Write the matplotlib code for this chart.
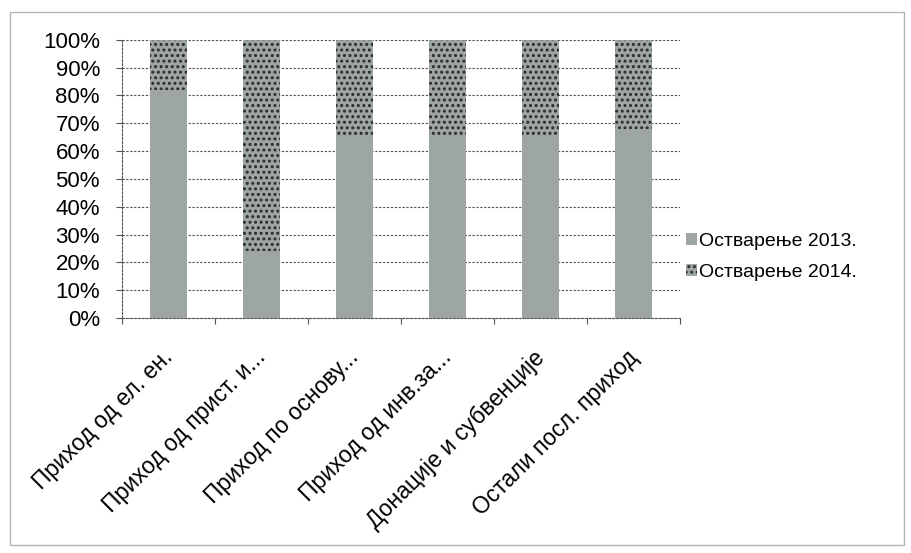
import matplotlib.pyplot as plt
import numpy as np
from matplotlib.patches import Rectangle, Patch

# Категорије прихода и удео остварења по годинама (%)
kategorije = ["Приход од ел. ен.", "Приход од прист. и...", "Приход по основу...",
              "Приход од инв.за...", "Донације и субвенције", "Остали посл. приход"]
ostvarenje_2013 = [82, 24, 65, 65, 65, 68]
ostvarenje_2014 = [18, 76, 35, 35, 35, 32]
serije = ["Остварење 2013.", "Остварење 2014."]

plt.rcParams['font.family'] = ['Liberation Sans', 'DejaVu Sans']
plt.rcParams['hatch.linewidth'] = 1.4

fig = plt.figure(figsize=(9.12, 5.53), dpi=100)
fig.patches.append(Rectangle((0.011, 0.014), 0.98, 0.965, transform=fig.transFigure,
                             fill=False, edgecolor='#b5b5b5', linewidth=1.0))

ax = fig.add_axes([0.134, 0.425, 0.612, 0.503])

x = np.arange(len(kategorije))
s13 = np.array(ostvarenje_2013, dtype=float)
s14 = np.array(ostvarenje_2014, dtype=float)
uk = s13 + s14
p13 = s13 / uk * 100
p14 = s14 / uk * 100

siva = '#9ea6a2'
ax.bar(x, p13, width=0.4, color=siva, edgecolor='none', zorder=3)
ax.bar(x, p14, width=0.4, bottom=p13, color=siva, edgecolor='#2a2a2a',
       hatch='...', linewidth=0, zorder=3)

ax.set_xlim(-0.5, len(kategorije) - 0.5)
ax.set_ylim(0, 100)
ax.set_yticks(np.arange(0, 101, 10))
ax.set_yticklabels([f"{v}%" for v in range(0, 101, 10)], fontsize=16)
ax.yaxis.grid(True, color='#505050', linestyle=(0, (2, 1.5)), linewidth=0.8, zorder=0)

ax.set_xticks(np.arange(-0.5, len(kategorije)))
ax.set_xticklabels([])
ax.tick_params(axis='x', length=4, color='#555555')
ax.tick_params(axis='y', length=4, color='#555555', pad=12)
for xi, lab in zip(x, kategorije):
    ax.text(xi - 0.08, -10, lab, rotation=45, ha='right', va='top',
            rotation_mode='anchor', fontsize=16.5)

for side in ['top', 'right']:
    ax.spines[side].set_visible(False)
ax.spines['left'].set_color('#555555')
ax.spines['left'].set_linestyle((0, (2, 1.5)))
ax.spines['bottom'].set_color('#555555')
ax.spines['bottom'].set_linestyle((0, (2, 1.5)))

rucke = [Patch(facecolor=siva, edgecolor='none'),
         Patch(facecolor=siva, edgecolor='#2a2a2a', hatch='...', linewidth=0)]
fig.legend(rucke, serije, loc='upper left', bbox_to_anchor=(0.733, 0.61),
           frameon=False, fontsize=14, handlelength=0.55, handleheight=0.55,
           handletextpad=0.1, labelspacing=0.7)

fig.savefig('out.png', dpi=100)
